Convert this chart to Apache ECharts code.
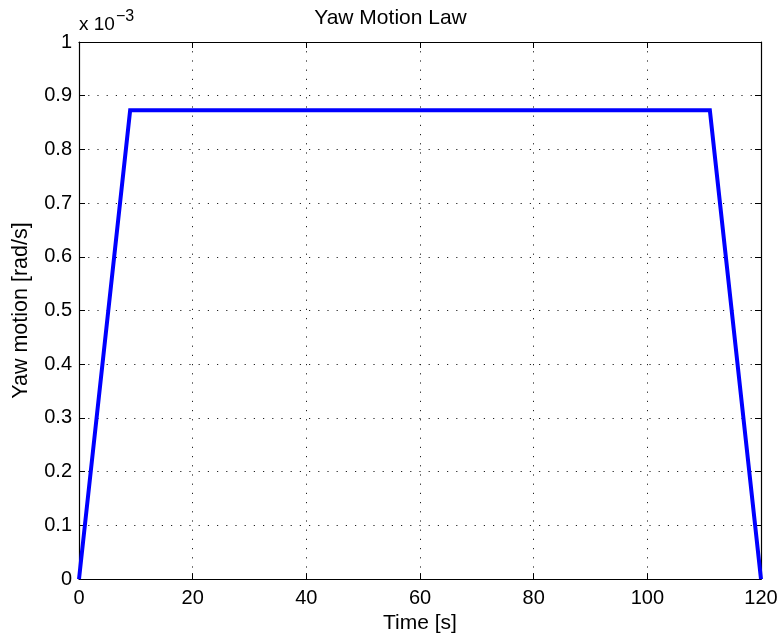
<!DOCTYPE html>
<html>
<head>
<meta charset="utf-8">
<title>Yaw Motion Law</title>
<script src="https://cdn.jsdelivr.net/npm/echarts@6/dist/echarts.min.js"></script>
<style>
  html, body { margin: 0; padding: 0; background: #fff; }
  #chart { width: 781px; height: 639px; }
</style>
</head>
<body>
<div id="chart"></div>
<script>
// Trapezoidal yaw-rate profile: ramp up, hold, ramp down
const timeSec = [0, 9, 111, 120];
// Yaw rate in units of 1e-3 rad/s (0.05 deg/s plateau)
const yawRateE3 = [0, 0.873, 0.873, 0];
const xTicks = [0, 20, 40, 60, 80, 100, 120];
const yTicks = [0, 0.1, 0.2, 0.3, 0.4, 0.5, 0.6, 0.7, 0.8, 0.9, 1];

const FONT = 'Liberation Sans, Arial, Helvetica, sans-serif';
const chart = echarts.init(document.getElementById('chart'), null, { renderer: 'canvas' });

const points = timeSec.map((t, i) => [t, yawRateE3[i]]);

const dotted = { show: true, lineStyle: { color: '#222', width: 1, type: [1.2, 8] } };
const axisLine = { show: true, onZero: false, lineStyle: { color: '#000', width: 1.2 } };
const tickIn = { show: true, inside: true, length: 6, lineStyle: { color: '#000', width: 1 } };

const fmtY = v => {
  const r = Math.round(v * 10) / 10;
  return (r === 0 || r === 1) ? String(r) : r.toFixed(1);
};

chart.setOption({
  animation: false,
  backgroundColor: '#fff',
  title: {
    text: 'Yaw Motion Law',
    left: 'center',
    top: 3,
    textStyle: { fontFamily: FONT, fontSize: 21, fontWeight: 'normal', color: '#000' }
  },
  grid: { left: 79, right: 20, top: 42, bottom: 59, containLabel: false },
  xAxis: [
    {
      type: 'value', min: xTicks[0], max: xTicks[xTicks.length - 1], interval: 20,
      name: 'Time [s]', nameLocation: 'middle', nameGap: 32,
      nameTextStyle: { fontFamily: FONT, fontSize: 21, color: '#000' },
      axisLine, axisTick: tickIn, splitLine: dotted,
      axisLabel: { fontFamily: FONT, fontSize: 20, color: '#000', margin: 9 }
    },
    {
      type: 'value', position: 'top', min: xTicks[0], max: xTicks[xTicks.length - 1], interval: 20,
      axisLine, axisTick: tickIn, splitLine: { show: false }, axisLabel: { show: false }
    }
  ],
  yAxis: [
    {
      type: 'value', min: yTicks[0], max: yTicks[yTicks.length - 1], interval: 0.1,
      name: 'Yaw motion [rad/s]', nameLocation: 'middle', nameGap: 47,
      nameTextStyle: { fontFamily: FONT, fontSize: 21.5, color: '#000' },
      axisLine, axisTick: tickIn, splitLine: dotted,
      axisLabel: { fontFamily: FONT, fontSize: 20, color: '#000', margin: 7, formatter: fmtY }
    },
    {
      type: 'value', position: 'right', min: yTicks[0], max: yTicks[yTicks.length - 1], interval: 0.1,
      axisLine, axisTick: tickIn, splitLine: { show: false }, axisLabel: { show: false }
    }
  ],
  graphic: [
    {
      type: 'text', left: 79, top: 15,
      style: { text: 'x 10', font: '19px ' + FONT, fill: '#000' }
    },
    {
      type: 'text', left: 116, top: 9,
      style: { text: '\u22123', font: '16px ' + FONT, fill: '#000' }
    }
  ],
  series: [
    {
      type: 'line',
      data: points,
      showSymbol: false,
      symbol: 'none',
      clip: false,
      lineStyle: { color: '#0000ff', width: 4, join: 'miter' },
      z: 5
    }
  ]
});
</script>
</body>
</html>
